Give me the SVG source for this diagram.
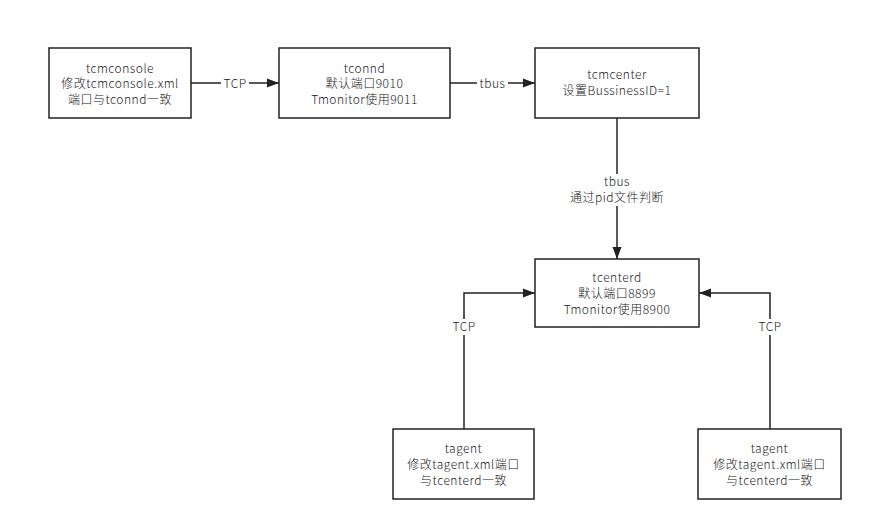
<svg xmlns="http://www.w3.org/2000/svg" width="873" height="531" viewBox="0 0 873 531">
<style>
.box{fill:#fff;stroke:#222;stroke-width:1.5}
.t{font-family:"Noto Sans CJK SC","Liberation Sans",sans-serif;font-size:12px;font-weight:300;letter-spacing:0.5px;fill:#222;text-anchor:middle}
.c{fill:none;stroke:#222;stroke-width:1.5}
.lb{fill:#fff}
</style>
<defs>
<marker id="arr" viewBox="0 0 12 10" refX="12" refY="5" markerWidth="12" markerHeight="10" markerUnits="userSpaceOnUse" orient="auto">
<path d="M0,0.5 L12,5 L0,9.5 Z" fill="#222"/>
</marker>
</defs>
<rect width="873" height="531" fill="#fff"/>
<g id="connectors">
<path class="c" d="M191,83 L279,83" marker-end="url(#arr)"/>
<path class="c" d="M450,83 L535,83" marker-end="url(#arr)"/>
<path class="c" d="M617,118 L617,259" marker-end="url(#arr)"/>
<path class="c" d="M464,429 L464,293 L535,293" marker-end="url(#arr)"/>
<path class="c" d="M770,429 L770,293 L699,293" marker-end="url(#arr)"/>
<rect class="lb" x="221" y="75" width="28" height="16"/>
<text class="t" x="235" y="87.5">TCP</text>
<rect class="lb" x="477" y="75" width="31" height="16"/>
<text class="t" x="492.5" y="87.5">tbus</text>
<rect class="lb" x="564" y="174" width="106" height="32"/>
<text class="t" x="617" y="186">tbus</text>
<text class="t" x="617" y="202">通过pid文件判断</text>
<rect class="lb" x="450" y="319" width="28" height="16"/>
<text class="t" x="464" y="331">TCP</text>
<rect class="lb" x="756" y="319" width="28" height="16"/>
<text class="t" x="770" y="331">TCP</text>
</g>
<g id="tcmconsole">
<rect class="box" x="49" y="48" width="142" height="70"/>
<text class="t" x="120" y="72.5">tcmconsole</text>
<text class="t" x="120" y="88">修改tcmconsole.xml</text>
<text class="t" x="120" y="104">端口与tconnd一致</text>
</g>
<g id="tconnd">
<rect class="box" x="279" y="48" width="171" height="70"/>
<text class="t" x="364.5" y="72.5">tconnd</text>
<text class="t" x="364.5" y="88">默认端口9010</text>
<text class="t" x="364.5" y="104">Tmonitor使用9011</text>
</g>
<g id="tcmcenter">
<rect class="box" x="535" y="48" width="164" height="70"/>
<text class="t" x="617" y="79">tcmcenter</text>
<text class="t" x="617" y="95">设置BussinessID=1</text>
</g>
<g id="tcenterd">
<rect class="box" x="535" y="259" width="164" height="68"/>
<text class="t" x="617" y="282">tcenterd</text>
<text class="t" x="617" y="298">默认端口8899</text>
<text class="t" x="617" y="314">Tmonitor使用8900</text>
</g>
<g id="tagent1">
<rect class="box" x="393" y="429" width="141" height="70"/>
<text class="t" x="463.5" y="453">tagent</text>
<text class="t" x="463.5" y="469">修改tagent.xml端口</text>
<text class="t" x="463.5" y="485">与tcenterd一致</text>
</g>
<g id="tagent2">
<rect class="box" x="698" y="429" width="143" height="70"/>
<text class="t" x="769.5" y="453">tagent</text>
<text class="t" x="769.5" y="469">修改tagent.xml端口</text>
<text class="t" x="769.5" y="485">与tcenterd一致</text>
</g>
</svg>
